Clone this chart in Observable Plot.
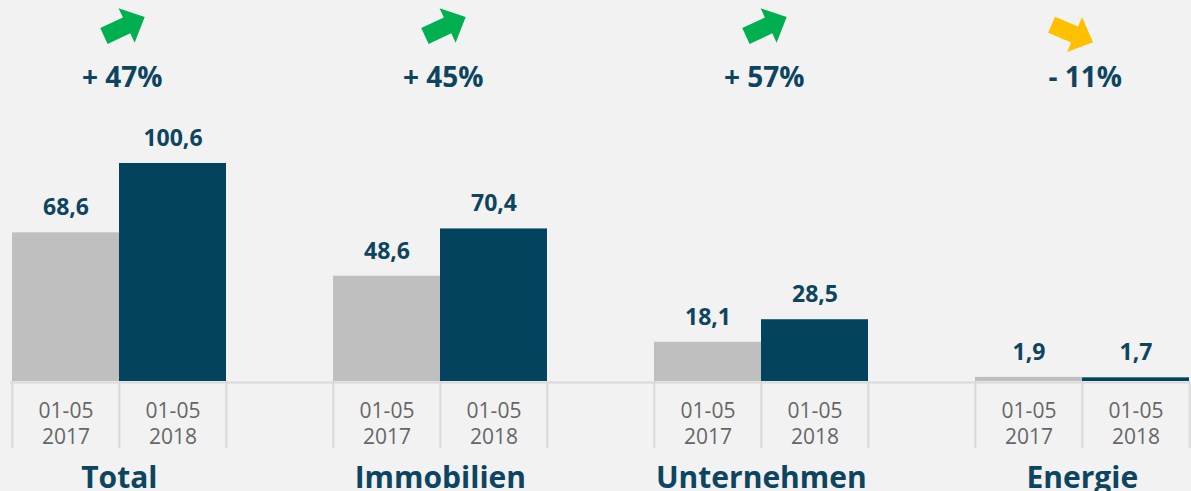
<!DOCTYPE html>
<html>
<head>
<meta charset="utf-8">
<script src="https://cdn.jsdelivr.net/npm/d3@7"></script>
<script src="https://cdn.jsdelivr.net/npm/@observablehq/plot@0.6"></script>
<style>
  html, body { margin: 0; padding: 0; background: #f2f2f2; overflow: hidden; }
  #chart svg { display: block; background: #f2f2f2; }
</style>
</head>
<body>
<div id="chart"></div>
<script>
// ---- data ----
const groups = ["Total", "Immobilien", "Unternehmen", "Energie"];
const years = ["2017", "2018"];
const periodLabels = ["01-05\n2017", "01-05\n2018"];
const values2017 = [68.6, 48.6, 18.1, 1.9];
const values2018 = [100.6, 70.4, 28.5, 1.7];
const changes = ["+ 47%", "+ 45%", "+ 57%", "- 11%"];
const trends = ["up", "up", "up", "down"];

// ---- build table ----
const rows = [];
groups.forEach((g, i) => {
  rows.push({group: g, year: years[0], label: periodLabels[0], value: values2017[i], slot: g + "|" + years[0]});
  rows.push({group: g, year: years[1], label: periodLabels[1], value: values2018[i], slot: g + "|" + years[1]});
});
const slots = [];
groups.forEach((g, i) => {
  slots.push(g + "|" + years[0], g + "|" + years[1]);
  if (i < groups.length - 1) slots.push("gap" + i);
});
const groupRows = groups.map((g, i) => ({
  group: g, slot: g + "|" + years[1], change: changes[i], trend: trends[i]
}));

const W = 1191, H = 491, ML = 10, MR = 0, MT = 0, MB = 110;
const bw = (W - ML - MR) / slots.length;

const colors = {"2017": "#bfbfbf", "2018": "#03435e"};
const navy = "#0d4560";
const fmt = v => v.toFixed(1).replace(".", ",");

// arrow symbol pointing right, centred on origin
const arrowSymbol = {
  draw(ctx) {
    ctx.moveTo(-22.5, -8.75);
    ctx.lineTo(2.5, -8.75);
    ctx.lineTo(2.5, -19);
    ctx.lineTo(22.5, 0);
    ctx.lineTo(2.5, 19);
    ctx.lineTo(2.5, 8.75);
    ctx.lineTo(-22.5, 8.75);
    ctx.closePath();
  }
};

const font = "'Open Sans', sans-serif";

const plot = Plot.plot({
  width: W, height: H,
  marginLeft: ML, marginRight: MR, marginTop: MT, marginBottom: MB,
  style: {background: "#f2f2f2", fontFamily: font},
  x: {type: "band", domain: slots, padding: 0, axis: null},
  y: {domain: [0, 175.8], axis: null},
  marks: [
    // baseline
    Plot.ruleY([0], {stroke: "#d9d9d9", strokeWidth: 2, dy: 1}),
    // separators below baseline
    Plot.ruleX(slots, {x: d => d, y1: 0, y2: 0, insetBottom: -67, dx: -bw / 2, stroke: "#d9d9d9", strokeWidth: 2}),
    Plot.ruleX(slots.slice(-1), {x: d => d, y1: 0, y2: 0, insetBottom: -67, dx: bw / 2, stroke: "#d9d9d9", strokeWidth: 2}),
    // bars
    Plot.barY(rows, {x: "slot", y: "value", fill: d => colors[d.year], inset: 0}),
    // value labels
    Plot.text(rows, {x: "slot", y: "value", text: d => fmt(d.value), dy: -25, lineAnchor: "middle",
      fill: navy, fontSize: 23, fontWeight: 700, style: "letter-spacing:1px"}),
    // period tick labels
    Plot.text(rows, {x: "slot", text: "label", frameAnchor: "bottom", lineAnchor: "middle", dy: 41,
      fill: "#666666", fontSize: 21, fontWeight: 400, lineHeight: 1.25}),
    // group labels
    Plot.text(groupRows, {x: "slot", text: "group", frameAnchor: "bottom", lineAnchor: "middle", dx: -bw / 2, dy: 97,
      fill: navy, fontSize: 30, fontWeight: 700}),
    // percentage changes
    Plot.text(groupRows, {x: "slot", text: "change", frameAnchor: "top", lineAnchor: "middle", dx: -bw / 2 + 3, dy: 78,
      fill: navy, fontSize: 28, fontWeight: 700}),
    // arrows
    Plot.dot(groupRows.filter(d => d.trend === "up"), {x: "slot", frameAnchor: "top", dx: -bw / 2 + 5, dy: 26,
      symbol: arrowSymbol, r: 10, rotate: -25, fill: "#00b050", stroke: "none"}),
    Plot.dot(groupRows.filter(d => d.trend === "down"), {x: "slot", frameAnchor: "top", dx: -bw / 2 - 10, dy: 33,
      symbol: arrowSymbol, r: 10, rotate: 23, fill: "#ffc000", stroke: "none"})
  ]
});
plot.querySelectorAll("text").forEach(t => {
  if (t.getAttribute("font-size") == "21") t.setAttribute("letter-spacing", "1.2");
});
document.getElementById("chart").appendChild(plot);
</script>
</body>
</html>
